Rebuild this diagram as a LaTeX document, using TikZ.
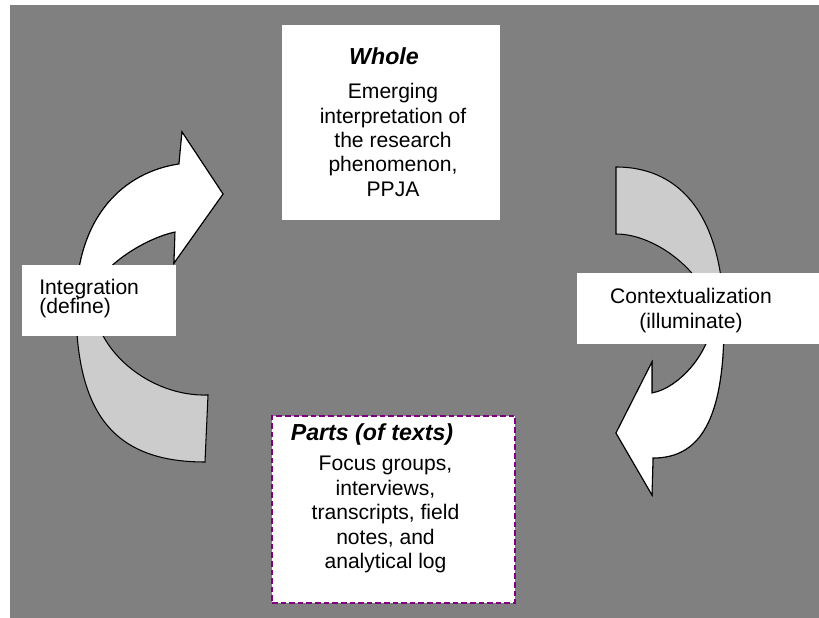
\documentclass[tikz,border=0pt]{standalone}
\usepackage{fontspec}
\setmainfont{Liberation Sans}
\definecolor{bggray}{HTML}{808080}
\definecolor{tailgray}{HTML}{CCCCCC}
\definecolor{partsline}{HTML}{800080}

\begin{document}
\begin{tikzpicture}[x=0.02cm, y=-0.02cm,
		box/.style={fill=white, inner sep=0pt},
		txt/.style={inner sep=0pt, align=center, font=\fontsize{12}{13.9}\selectfont},
		head/.style={inner sep=0pt, anchor=base, font=\fontsize{13.2}{15}\selectfont\bfseries\itshape},
		arrowbody/.style={draw=black, line width=0.6pt, fill=#1}
		]
		\useasboundingbox (0,0) rectangle (819,618);
		% ── Background ──
		\fill[bggray] (10,5) rectangle (819,618);
		
		% ── Left arrow: Integration ──
		\path[arrowbody=tailgray] (205,462) .. controls (115,462) and (76,415) .. (76,305)
			.. controls (76,215) and (125,172) .. (179,164)
			-- (182,132) -- (223,194) -- (174,263) -- (175,232)
			.. controls (145,238) and (93,270) .. (93,298)
			.. controls (93,350) and (150,397) .. (208,395) -- cycle;
		\path[arrowbody=white] (76,305) .. controls (76,215) and (125,172) .. (179,164)
			-- (182,132) -- (223,194) -- (174,263) -- (175,232)
			.. controls (145,238) and (93,270) .. (93,298) -- cycle;
		
		% ── Right arrow: Contextualization ──
		\path[arrowbody=tailgray] (616,167) .. controls (684,167) and (724,221) .. (724,322)
			.. controls (724,420) and (700,458) .. (653,458)
			-- (652,495) -- (616,433) -- (652,362) -- (652,393)
			.. controls (680,388) and (712,350) .. (712,318)
			.. controls (712,280) and (660,234) .. (616,234) -- cycle;
		\path[arrowbody=white] (724,322) .. controls (724,420) and (700,458) .. (653,458)
			-- (652,495) -- (616,433) -- (652,362) -- (652,393)
			.. controls (680,388) and (712,350) .. (712,318) -- cycle;
		
		% ── Whole ──
		\node[box, minimum width=4.36cm, minimum height=3.9cm] (whole) at (391,122.5) {};
		\node[head] (wholehead) at (384,64.3) {Whole};
		\node[txt, anchor=north] (wholetext) at (393,83) {Emerging\\interpretation of\\the research\\phenomenon,\\PPJA};
		
		% ── Parts ──
		\node[box, draw=partsline, line width=0.85pt, dash pattern=on 3.2pt off 1.7pt,
			minimum width=4.86cm, minimum height=3.74cm] (parts) at (393.5,509.5) {};
		\node[head] (partshead) at (372,440) {Parts (of texts)};
		\node[txt, anchor=north] (partstext) at (385.5,456) {Focus groups,\\interviews,\\transcripts, field\\notes, and\\analytical log};
		
		% ── Side labels ──
		\node[box, minimum width=3.08cm, minimum height=1.42cm] (integ) at (99,300.5) {};
		\node[txt, align=left, anchor=north west,
			font={\fontsize{12}{10.8}\selectfont\setlength{\lineskiplimit}{-10pt}}] (integtext) at (39,279) {Integration\\(define)};
		\node[box, minimum width=4.84cm, minimum height=1.42cm] (context) at (698,308.5) {};
		\node[txt, anchor=north, font=\fontsize{12}{14.2}\selectfont] (contexttext) at (691,288) {Contextualization\\(illuminate)};
	\end{tikzpicture}
\end{document}
